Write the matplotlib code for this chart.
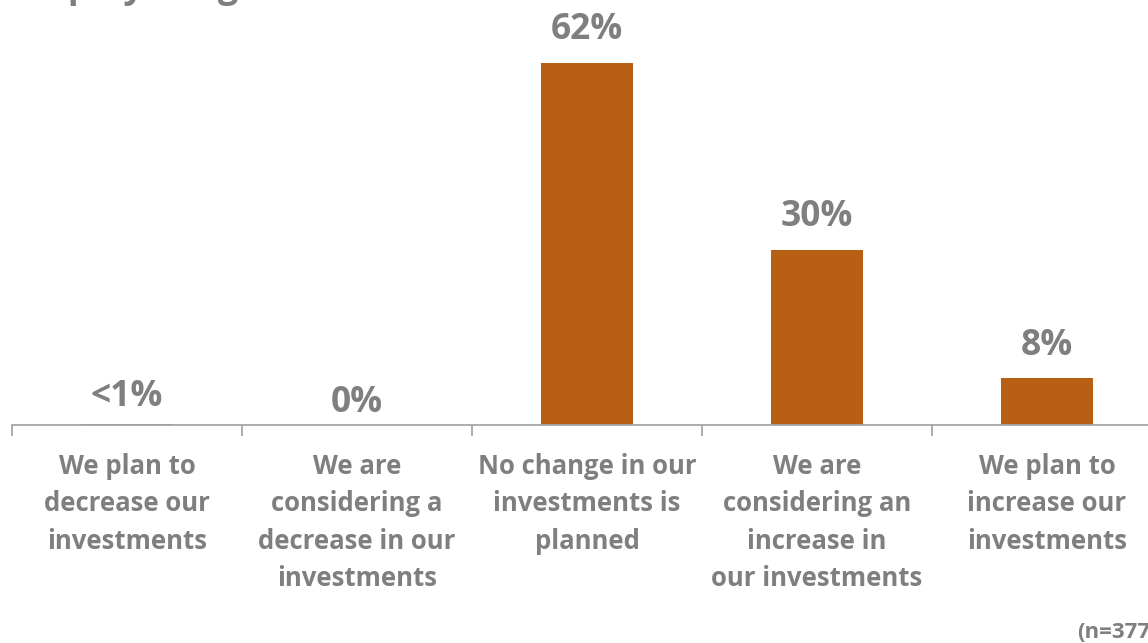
import matplotlib.pyplot as plt

# data
categories = ['We plan to\ndecrease our\ninvestments',
              'We are\nconsidering a\ndecrease in our\ninvestments',
              'No change in our\ninvestments is\nplanned',
              'We are\nconsidering an\nincrease in\nour investments',
              'We plan to\nincrease our\ninvestments']
values = [0.1, 0, 62, 30, 8]
value_labels = ['<1%', '0%', '62%', '30%', '8%']

plt.rcParams['font.family'] = ['Open Sans', 'DejaVu Sans']
grey = '#7f7f7f'
bar_color = '#b85f16'

fig = plt.figure(figsize=(11.48, 6.43), dpi=100)
ax = fig.add_axes([12 / 1148, 1 - 425 / 643, 1150 / 1148, 409 / 643])

x = list(range(len(values)))
ax.bar(x, values, width=0.4, color=bar_color)
ax.set_xlim(-0.5, 4.5)
ax.set_ylim(0, 70)

for i, v in enumerate(values):
    # labels for the (near) empty bars sit a little lower
    off = 17 if v > 1 else (13 if v > 0 else 9)
    ax.annotate(value_labels[i], xy=(i, v), xytext=(0, off), textcoords='offset points',
                ha='center', va='baseline', fontsize=25.5, fontweight='bold', color=grey)

for s in ['top', 'right', 'left']:
    ax.spines[s].set_visible(False)
ax.spines['bottom'].set_color('#a6a6a6')
ax.spines['bottom'].set_linewidth(1.3)
ax.set_yticks([])

ax.set_xticks(x)
ax.set_xticklabels(categories, fontsize=18.5, fontweight='bold', color=grey, linespacing=1.5)
ax.tick_params(axis='x', which='major', length=0, pad=20)
ax.set_xticks([i - 0.5 for i in range(len(values) + 1)], minor=True)
ax.tick_params(axis='x', which='minor', length=8, width=1.3, color='#a6a6a6', direction='out')

fig.text(12 / 1148, 1 + 3 / 643, 'Employee agenda', ha='left', va='baseline',
         fontsize=26, fontweight='bold', color=grey)
fig.text(1077 / 1148, 5 / 643, '(n=377)', ha='left', va='baseline',
         fontsize=16, fontweight='bold', color=grey)

fig.savefig('out.png', dpi=100)
